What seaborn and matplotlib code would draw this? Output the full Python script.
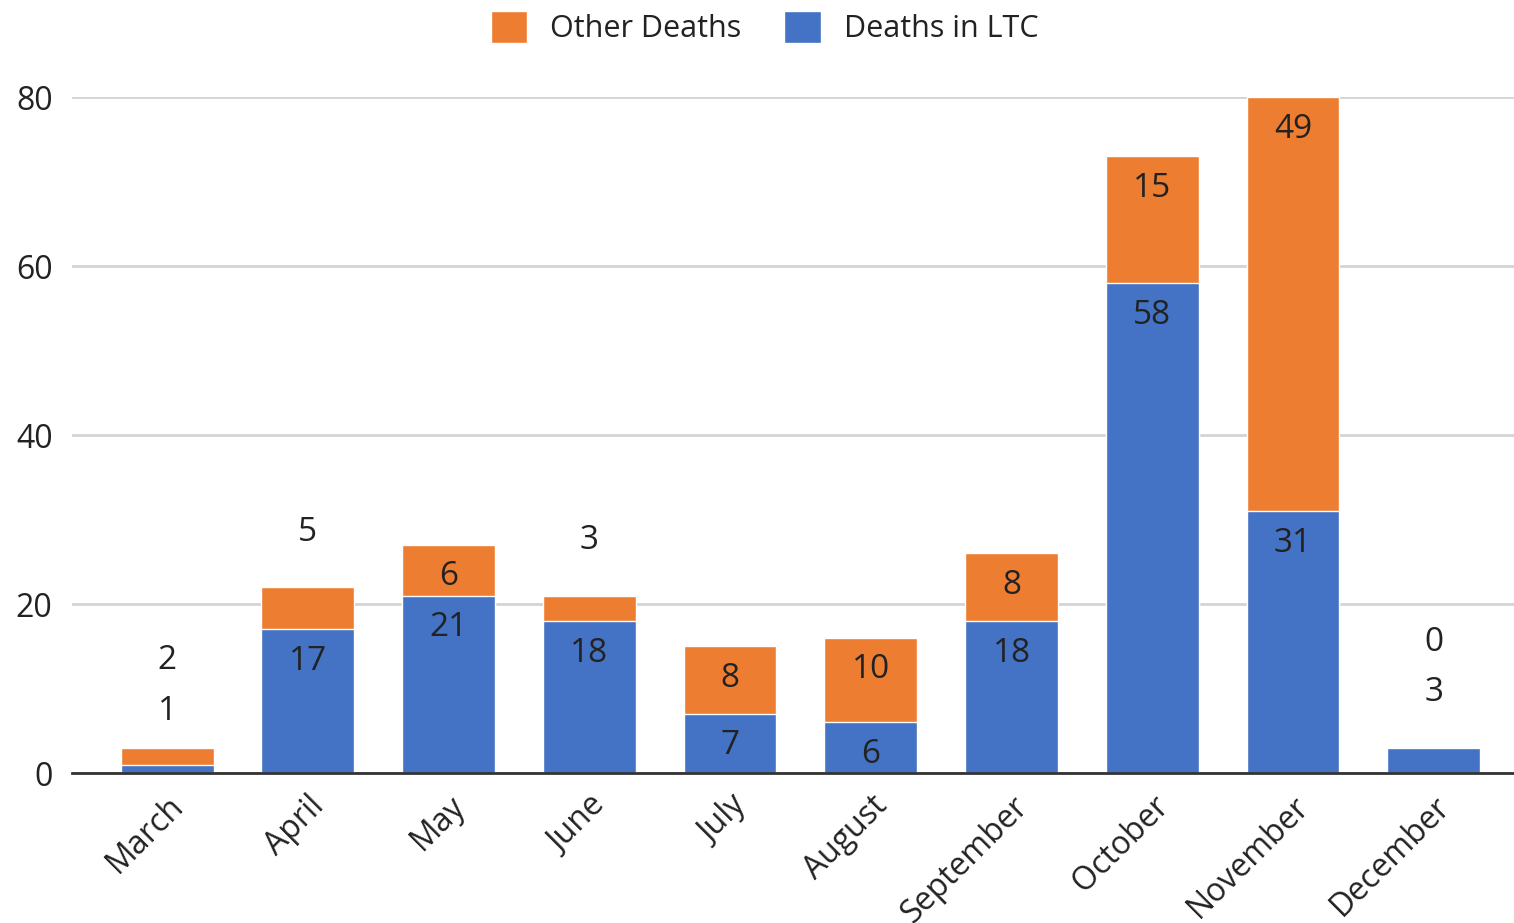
import pandas as pd
import matplotlib.pyplot as plt
import seaborn as sns
from matplotlib.patches import Patch

# =====================================================
# DATA
# =====================================================
months = ["March", "April", "May", "June", "July", "August",
          "September", "October", "November", "December"]
ltc_deaths = [1, 17, 21, 18, 7, 6, 18, 58, 31, 3]
other_deaths = [2, 5, 6, 3, 8, 10, 8, 15, 49, 0]

df = pd.DataFrame({
    "Month": months,
    "LTC": ltc_deaths,
    "Other": other_deaths,
})
df["Total"] = df["LTC"] + df["Other"]

ORANGE = "#ED7D31"
BLUE = "#4472C4"

# =====================================================
# STYLE
# =====================================================
sns.set_style("white")
plt.rcParams["font.family"] = ["Open Sans", "DejaVu Sans"]
plt.rcParams["text.color"] = "#222222"

fig = plt.figure(figsize=(15.14, 9.23), dpi=100)
ax = fig.add_axes([0.0476, 0.1625, 0.9524, 0.7324])

# stacked bars: total first (orange), then LTC on top (blue)
sns.barplot(data=df, x="Month", y="Total", color=ORANGE, width=0.66,
            saturation=1, ax=ax, zorder=2)
sns.barplot(data=df, x="Month", y="LTC", color=BLUE, width=0.66,
            saturation=1, ax=ax, zorder=3)

ax.set_xlim(-0.675, 9.57)
ax.set_ylim(0, 80)
ax.set_yticks([0, 20, 40, 60, 80])
ax.grid(axis="y", color="#d4d4d4", linewidth=2, zorder=0)
ax.set_axisbelow(True)
for s in ["top", "right", "left"]:
    ax.spines[s].set_visible(False)
ax.spines["bottom"].set_color("#333333")
ax.spines["bottom"].set_linewidth(2)
ax.spines["bottom"].set_zorder(5)
ax.set_xlabel("")
ax.set_ylabel("")
ax.tick_params(axis="y", length=0, pad=14, labelsize=23, labelcolor="#222222")
ax.tick_params(axis="x", length=0, pad=12, labelsize=23, labelcolor="#222222")
for lbl in ax.get_xticklabels():
    lbl.set_rotation(45)
    lbl.set_ha("right")
    lbl.set_va("top")
    lbl.set_rotation_mode("anchor")

# =====================================================
# VALUE LABELS
# =====================================================
for i, row in df.iterrows():
    outside = []
    # LTC segment
    if row["LTC"] >= 6:
        ax.text(i, row["LTC"] - 3.8, str(row["LTC"]), ha="center",
                va="center", fontsize=24, zorder=6)
    else:
        outside.append(row["LTC"])
    # Other segment
    if row["Other"] >= 6:
        ax.text(i, row["Total"] - 3.8, str(row["Other"]), ha="center",
                va="center", fontsize=24, zorder=6)
    else:
        outside.append(row["Other"])
    for k, v in enumerate(outside):
        off = 6.5 + 6.0 * k
        if len(outside) == 2 and row["LTC"] < row["Other"]:
            off -= 2.2
        ax.text(i, row["Total"] + off, str(v), ha="center",
                va="center", fontsize=24, zorder=6)

# =====================================================
# LEGEND
# =====================================================
handles = [Patch(facecolor=ORANGE, label="Other Deaths"),
           Patch(facecolor=BLUE, label="Deaths in LTC")]
fig.legend(handles=handles, loc="upper center", bbox_to_anchor=(0.505, 1.018),
           ncol=2, frameon=False, fontsize=22, handlelength=1.2,
           handleheight=1.25, handletextpad=0.75, columnspacing=1.4)

plt.savefig("out.png", dpi=100)
plt.close()
